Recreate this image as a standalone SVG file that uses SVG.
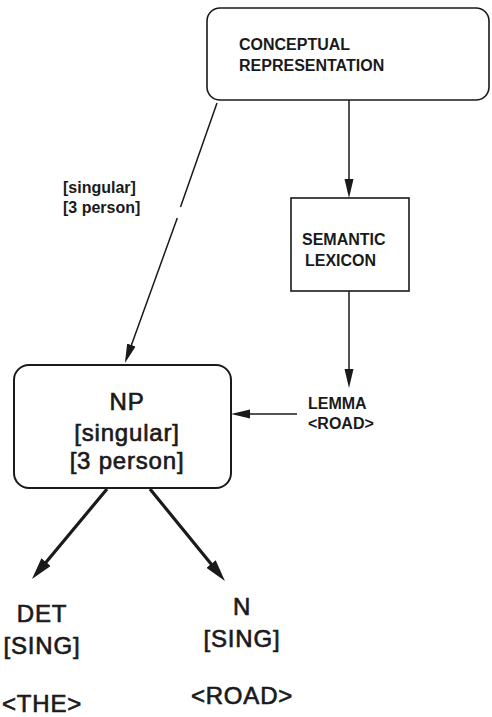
<svg xmlns="http://www.w3.org/2000/svg" width="492" height="717" viewBox="0 0 492 717">
  <style>
    .box { fill: #ffffff; stroke: #1a1a1a; }
    .lbl { font-family: "Liberation Sans", Arial, sans-serif; font-weight: bold; font-size: 16px; fill: #1a1a1a; }
    .big { font-family: "Liberation Sans", Arial, sans-serif; font-size: 24px; fill: #1a1a1a; stroke: #1a1a1a; stroke-width: 0.65; text-anchor: middle; letter-spacing: 0.8px; }
    .thin { fill: none; stroke: #1a1a1a; stroke-width: 1.5; }
    .thick { fill: none; stroke: #1a1a1a; stroke-width: 3.2; }
  </style>
  <defs>
    <marker id="head" markerUnits="userSpaceOnUse" markerWidth="19" markerHeight="10" refX="15" refY="5" orient="auto">
      <path d="M0,0.5 L19,5 L0,9.5 z" fill="#1a1a1a"/>
    </marker>
    <marker id="headBold" markerUnits="userSpaceOnUse" markerWidth="22" markerHeight="12" refX="14" refY="6" orient="auto">
      <path d="M0,0 L22,6 L0,12 z" fill="#1a1a1a"/>
    </marker>
  </defs>

  <rect width="492" height="717" fill="#ffffff"/>

  <!-- connectors -->
  <g id="connectors">
    <path class="thin" d="M349,100 L349,194" marker-end="url(#head)"/>
    <path class="thin" d="M349,291 L349,384" marker-end="url(#head)"/>
    <path class="thin" d="M297,414 L235,414" marker-end="url(#head)"/>
    <path class="thin" d="M217,103 L180.5,207 M177.3,218 L126.3,359.2" marker-end="url(#head)"/>
    <path class="thick" d="M107,489 L37.1,572.9" marker-end="url(#headBold)"/>
    <path class="thick" d="M150,489 L219.9,574.8" marker-end="url(#headBold)"/>
  </g>

  <g id="conceptual-representation">
    <rect class="box" x="207" y="8" width="282" height="92" rx="13" ry="13" stroke-width="1.6"/>
    <text class="lbl" x="239" y="50">CONCEPTUAL</text>
    <text class="lbl" x="239" y="71">REPRESENTATION</text>
  </g>

  <g id="semantic-lexicon">
    <rect class="box" x="291" y="198" width="118" height="93" stroke-width="1.6"/>
    <text class="lbl" x="302" y="245">SEMANTIC</text>
    <text class="lbl" x="305" y="266">LEXICON</text>
  </g>

  <g id="feature-label">
    <text class="lbl" x="63" y="193">[singular]</text>
    <text class="lbl" x="63" y="213">[3 person]</text>
  </g>

  <g id="lemma">
    <text class="lbl" x="308" y="409">LEMMA</text>
    <text class="lbl" x="308" y="429">&lt;ROAD&gt;</text>
  </g>

  <g id="np">
    <rect class="box" x="14" y="365" width="217" height="123" rx="15" ry="15" stroke-width="2"/>
    <text class="big" x="127" y="410">NP</text>
    <text class="big" x="127" y="441">[singular]</text>
    <text class="big" x="127" y="469">[3 person]</text>
  </g>

  <g id="det">
    <text class="big" x="42" y="622">DET</text>
    <text class="big" x="42" y="654">[SING]</text>
    <text class="big" x="42" y="712">&lt;THE&gt;</text>
  </g>

  <g id="n">
    <text class="big" x="242" y="615">N</text>
    <text class="big" x="242" y="647">[SING]</text>
    <text class="big" x="242" y="704">&lt;ROAD&gt;</text>
  </g>
</svg>
